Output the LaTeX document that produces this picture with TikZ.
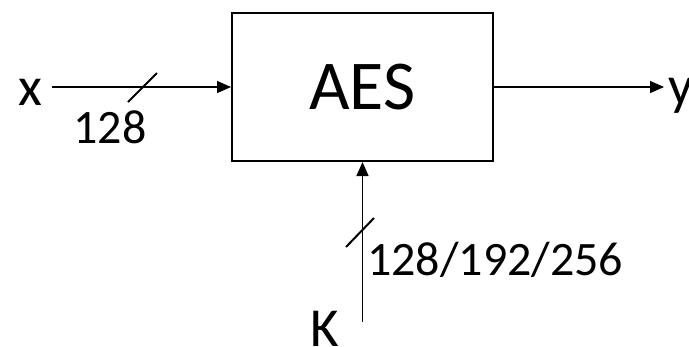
\documentclass[tikz,border=0pt]{standalone}
\usepackage{fontspec}
\setmainfont{Carlito}
\usetikzlibrary{arrows.meta}
\begin{document}
\begin{tikzpicture}[x=1pt,y=-1pt,
  blockbox/.style={draw,line width=2pt,minimum width=261pt,minimum height=148pt,inner sep=0pt,font=\fontsize{70}{80}\selectfont},
  sig/.style={line width=1.4pt,-{Triangle[length=14pt,width=12pt]}},
  bus/.style={line width=2pt},
  lbl/.style={inner sep=0pt,font=\fontsize{55}{60}\selectfont},
  num/.style={inner sep=0pt,font=\fontsize{48}{54}\selectfont}]
\useasboundingbox (0,0) rectangle (689,346);
\node[blockbox] (aes) at (362.5,87) {\raisebox{-2.5pt}{AES}};
\node[lbl,anchor=base] (x) at (30,105) {x};
\coordinate (xs) at (52,87);
\draw[sig] (xs) -- (aes.west);
\coordinate (ye) at (664,87);
\draw[sig] (aes.east) -- (ye);
\node[lbl,anchor=base west] (y) at (668,104) {y};
\node[lbl,anchor=base] (k) at (325,346) {K};
\coordinate (ks) at (aes.south |- 0,322);
\draw[sig] (ks) -- (aes.south);
\coordinate (s1a) at (128,102);
\coordinate (s1b) at (157,73);
\draw[bus] (s1a) -- (s1b);
\coordinate (s2a) at (346,247);
\coordinate (s2b) at (374,218);
\draw[bus] (s2a) -- (s2b);
\node[num,anchor=base] (n1) at (110,143) {128};
\node[num,anchor=base west] (n2) at (367,275) {128/192/256};
\end{tikzpicture}
\end{document}
